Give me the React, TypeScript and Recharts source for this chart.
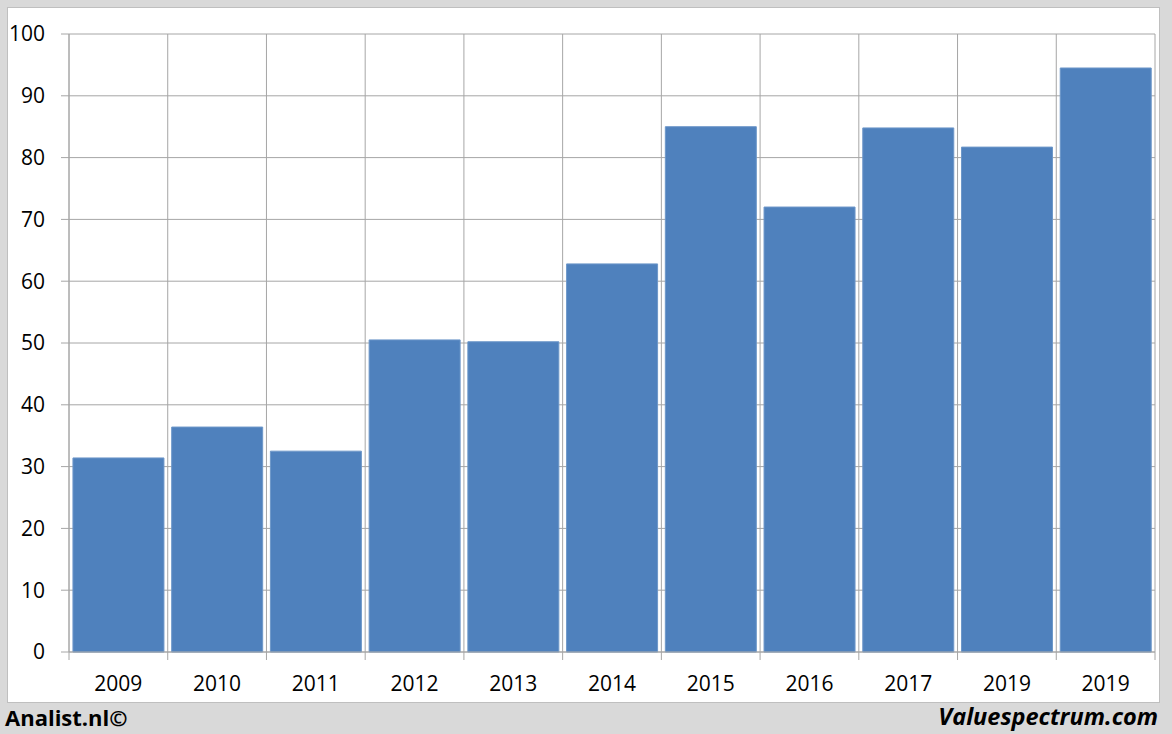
import React from "react";
import { BarChart, Bar, XAxis, YAxis, CartesianGrid } from "recharts";

const years = ["2009", "2010", "2011", "2012", "2013", "2014", "2015", "2016", "2017", "2019", "2019"];
const values = [31.4, 36.4, 32.5, 50.5, 50.2, 62.8, 85.0, 72.0, 84.8, 81.7, 94.5];
const yTicks = [0, 10, 20, 30, 40, 50, 60, 70, 80, 90, 100];

const data = years.map((y, i) => ({ idx: i, year: y, value: values[i] }));

const FONT = "'Open Sans', 'Liberation Sans', sans-serif";
const GRID = "#a6a6a6";

const XTick = (props: any) => {
  const { x, y, payload, width, index, visibleTicksCount } = props;
  const count = visibleTicksCount || years.length;
  const band = width / count;
  const left = x - band / 2;
  const right = x + band / 2;
  return (
    <g>
      <line x1={left} x2={left} y1={y - 8} y2={y} stroke={GRID} strokeWidth={1} />
      {index === count - 1 && (
        <line x1={right} x2={right} y1={y - 8} y2={y} stroke={GRID} strokeWidth={1} />
      )}
      <text x={x} y={y + 31} textAnchor="middle" fontFamily={FONT} fontSize={21} fill="#000">
        {years[payload.value]}
      </text>
    </g>
  );
};

export default function App() {
  return (
    <div
      style={{
        position: "absolute",
        left: 0,
        top: 0,
        width: 1172,
        height: 734,
        background: "#d9d9d9",
        overflow: "hidden",
      }}
    >
      <div
        style={{
          position: "absolute",
          left: 7,
          top: 7,
          width: 1153,
          height: 696,
          background: "#fff",
          border: "1px solid #bfbfbf",
          boxSizing: "border-box",
        }}
      />
      <div style={{ position: "absolute", left: 0, top: 0 }}>
        <BarChart
          width={1172}
          height={734}
          data={data}
          margin={{ top: 34, right: 17, bottom: 0, left: 0 }}
          barCategoryGap="4%"
        >
          <CartesianGrid
            stroke={GRID}
            strokeWidth={1}
            verticalCoordinatesGenerator={({ offset }: any) =>
              years.map((_, i) => offset.left + (i * offset.width) / years.length).concat([offset.left + offset.width])
            }
          />
          <XAxis
            dataKey="idx"
            type="category"
            axisLine={{ stroke: GRID }}
            tickLine={false}
            tick={<XTick />}
            interval={0}
            height={82}
          />
          <YAxis
            domain={[0, 100]}
            ticks={yTicks}
            axisLine={{ stroke: GRID }}
            tickLine={{ stroke: GRID }}
            tickSize={8}
            tickMargin={16}
            width={69}
            tick={{ fontFamily: FONT, fontSize: 21, fill: "#000" }}
            interval={0}
          />
          <Bar dataKey="value" fill="#4f81bd" stroke="#6d97c9" strokeWidth={1} isAnimationActive={false} />
        </BarChart>
      </div>
      <div
        style={{
          position: "absolute",
          left: 5,
          top: 701,
          fontFamily: FONT,
          fontWeight: 700,
          fontSize: 22,
          color: "#000",
          lineHeight: "32px",
        }}
      >
        Analist.nl©
      </div>
      <div
        style={{
          position: "absolute",
          right: 14,
          top: 700,
          fontFamily: FONT,
          fontWeight: 700,
          fontStyle: "italic",
          fontSize: 23.5,
          color: "#000",
          lineHeight: "32px",
        }}
      >
        Valuespectrum.com
      </div>
    </div>
  );
}
